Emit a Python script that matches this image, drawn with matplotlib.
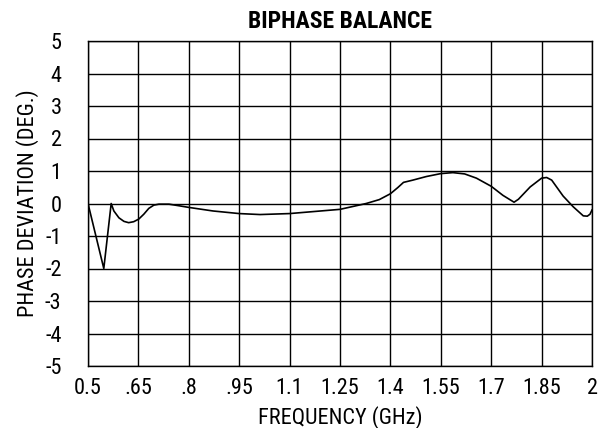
import matplotlib
matplotlib.use("Agg")
import matplotlib.pyplot as plt
from matplotlib import font_manager

freq = [0.5, 0.547, 0.569, 0.577, 0.592, 0.607, 0.621, 0.636, 0.651, 0.666, 0.681,
        0.696, 0.711, 0.741, 0.771, 0.8, 0.872, 0.95, 1.012, 1.1, 1.25, 1.328,
        1.367, 1.4, 1.422, 1.439, 1.467, 1.507, 1.55, 1.586, 1.621, 1.656, 1.7,
        1.735, 1.768, 1.781, 1.816, 1.85, 1.865, 1.88, 1.914, 1.944, 1.974, 1.986,
        1.994, 2.0]
phase = [0.0, -2.0, 0.0, -0.23, -0.44, -0.55, -0.59, -0.56, -0.48, -0.33, -0.15,
         -0.05, -0.02, -0.02, -0.07, -0.12, -0.23, -0.31, -0.34, -0.31, -0.18, 0.0,
         0.12, 0.30, 0.49, 0.65, 0.72, 0.83, 0.92, 0.95, 0.91, 0.78, 0.53,
         0.25, 0.04, 0.13, 0.51, 0.78, 0.80, 0.72, 0.23, -0.10, -0.38, -0.39,
         -0.33, -0.20]

xticks = [0.5, 0.65, 0.8, 0.95, 1.1, 1.25, 1.4, 1.55, 1.7, 1.85, 2.0]
xticklabels = ["0.5", ".65", ".8", ".95", "1.1", "1.25", "1.4", "1.55", "1.7", "1.85", "2"]
yticks = [5, 4, 3, 2, 1, 0, -1, -2, -3, -4, -5]
yticklabels = ["5", "4", "3", "2", "1", "0", "-1", "-2", "-3", "-4", "-5"]

# pick a condensed sans font if one is installed
entries = font_manager.fontManager.ttflist
names = {f.name for f in entries}
family = None
stretch = "normal"
for cand in ["Liberation Sans Narrow", "Roboto Condensed", "Open Sans Condensed",
             "Noto Sans Condensed", "DejaVu Sans Condensed"]:
    if cand in names:
        family = cand
        break
if family is None:
    for f in entries:
        if str(f.stretch) in ("condensed", "semi-condensed", "extra-condensed") and \
                f.name in ("DejaVu Sans", "Noto Sans", "Roboto", "Open Sans", "Liberation Sans"):
            family = f.name
            stretch = "condensed"
            break
condensed = family is not None
if family is None:
    family = "Liberation Sans"

plt.rcParams['font.family'] = [family, 'DejaVu Sans']
plt.rcParams['font.stretch'] = stretch

fs = 16 if condensed else 14
tfs = 17 if condensed else 14

fig = plt.figure(figsize=(6.07, 4.28), dpi=100)
ax = fig.add_axes([88/607, 62/428, 504/607, 325/428])
ax.plot(freq, phase, color="black", lw=1.2)
ax.set_xlim(0.5, 2.0)
ax.set_ylim(-5, 5)
ax.set_xticks(xticks)
ax.set_xticklabels(xticklabels)
ax.set_yticks(yticks)
ax.set_yticklabels(yticklabels)
ax.grid(True, color="black", lw=1.0)
ax.tick_params(length=0, labelsize=fs)
ax.tick_params(axis="x", pad=9)
ax.tick_params(axis="y", pad=19)
for s in ax.spines.values():
    s.set_linewidth(1.0)
ax.set_xlabel("FREQUENCY (GHz)", fontsize=fs)
ax.xaxis.label.set_va("center")
ax.xaxis.set_label_coords(0.5, -0.158)
ax.set_ylabel("PHASE DEVIATION (DEG.)", fontsize=fs)
ax.yaxis.label.set_va("center")
ax.yaxis.set_label_coords(-0.121, 0.5)
ax.set_title("BIPHASE BALANCE", fontsize=tfs, fontweight="bold", y=1.06, pad=0, va="center")
fig.savefig("out.png", dpi=100)
